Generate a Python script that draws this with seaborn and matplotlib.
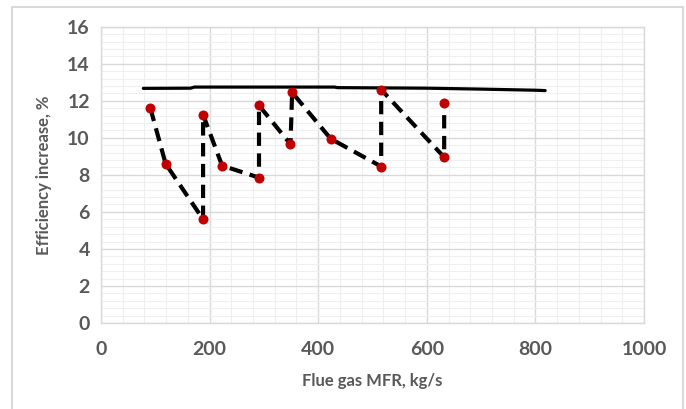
import matplotlib
matplotlib.use("Agg")
import matplotlib.pyplot as plt
import seaborn as sns
import numpy as np
from matplotlib.ticker import MultipleLocator
from matplotlib.patches import Rectangle

# dashed series with red markers (flue gas MFR vs efficiency increase)
mfr_pts = [91, 119, 188, 188, 223, 291, 291, 349, 352, 423, 516, 516, 632, 632]
eff_pts = [11.6, 8.6, 5.6, 11.25, 8.5, 7.85, 11.75, 9.65, 12.45, 9.95, 8.45, 12.6, 8.95, 11.9]

# solid upper curve
mfr_line = [78, 165, 172, 430, 436, 600, 700, 800, 818]
eff_line = [12.67, 12.68, 12.74, 12.74, 12.71, 12.68, 12.63, 12.57, 12.55]

sns.set_style("white")
plt.rcParams['font.family'] = ['Lato', 'DejaVu Sans']

fig = plt.figure(figsize=(6.86, 4.09), dpi=100)
ax = fig.add_axes([0.1472, 0.2103, 0.7916, 0.7244])

sns.lineplot(x=mfr_line, y=eff_line, sort=False, estimator=None, color="black",
             linewidth=2.3, ax=ax)
sns.lineplot(x=mfr_pts, y=eff_pts, sort=False, estimator=None, color="black",
             linewidth=3.0, linestyle=(0, (3.2, 1.8)), ax=ax)
sns.scatterplot(x=mfr_pts, y=eff_pts, color="#C00000", s=52, edgecolor="#C00000",
                linewidth=0, zorder=5, ax=ax)

ax.set_xlim(0, 1000)
ax.set_ylim(0, 16)
ax.xaxis.set_major_locator(MultipleLocator(200))
ax.xaxis.set_minor_locator(MultipleLocator(40))
ax.yaxis.set_major_locator(MultipleLocator(2))
ax.yaxis.set_minor_locator(MultipleLocator(0.4))
ax.grid(which="major", color="#D9D9D9", linewidth=1.0)
ax.grid(which="minor", color="#EFEFEF", linewidth=0.8)
ax.set_axisbelow(True)
for s in ax.spines.values():
    s.set_color("#D9D9D9")
    s.set_linewidth(1.0)
ax.tick_params(which="both", length=0, labelsize=14, colors="#595959", pad=8)
for lab in ax.get_xticklabels() + ax.get_yticklabels():
    lab.set_fontweight("bold")
ax.tick_params(axis="x", pad=13)

ax.set_xlabel("Flue gas MFR, kg/s", fontsize=12, fontweight="bold", color="#595959", labelpad=11)
ax.set_ylabel("Efficiency increase, %", fontsize=12, fontweight="bold", color="#595959", labelpad=11)

fig.patches.append(Rectangle((12 / 686, -0.01), 671 / 686, 1 - 7 / 409 + 0.01,
                             transform=fig.transFigure, fill=False,
                             edgecolor="#D9D9D9", linewidth=1.5))

fig.savefig("out.png", dpi=100)
